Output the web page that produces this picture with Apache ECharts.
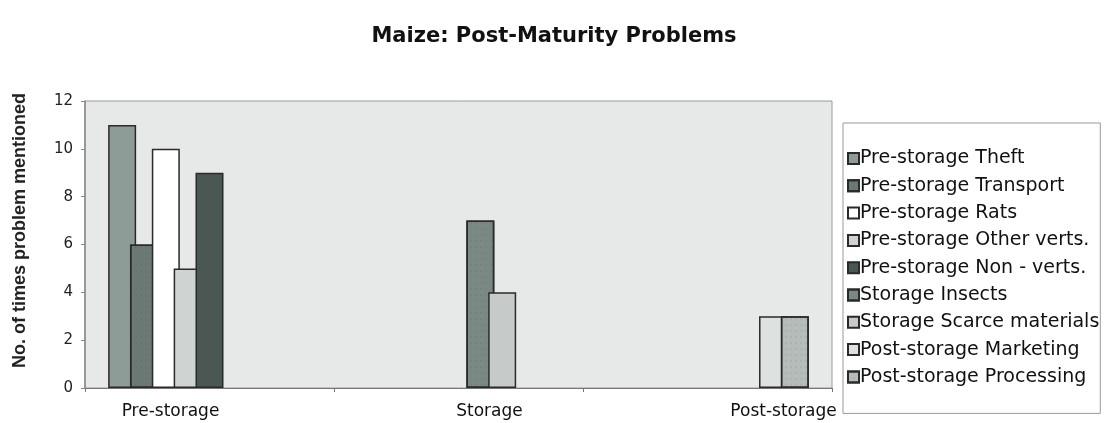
<!DOCTYPE html>
<html>
<head>
<meta charset="utf-8">
<script src="https://cdn.jsdelivr.net/npm/echarts@6/dist/echarts.min.js"></script>
<style>
html,body{margin:0;padding:0;background:#fff;}
#chart{width:1104px;height:423px;}
</style>
</head>
<body>
<div id="chart"></div>
<script>
const categories = ['Pre-storage', 'Storage', 'Post-storage'];
const seriesNames = [
  'Pre-storage Theft', 'Pre-storage Transport', 'Pre-storage Rats',
  'Pre-storage Other verts.', 'Pre-storage Non - verts.', 'Storage Insects',
  'Storage Scarce materials', 'Post-storage Marketing', 'Post-storage Processing'
];
const theft = [11, null, null];
const transport = [6, null, null];
const rats = [10, null, null];
const otherVerts = [5, null, null];
const nonVerts = [9, null, null];
const insects = [null, 7, null];
const scarce = [null, 4, null];
const marketing = [null, null, 3];
const processing = [null, null, 3];
const yTicks = [0, 2, 4, 6, 8, 10, 12];

const values = [theft, transport, rats, otherVerts, nonVerts, insects, scarce, marketing, processing];
const colors = ['#8d9c97', '#6c7a76', '#ffffff', '#cfd4d2', '#4a5753', '#7b8985', '#c6cbc9', '#dde2e0', '#b5bcb9'];
const textured = [false, true, false, false, false, true, false, false, true];
const labelShift = [-39, 31, 76];
const FONT = 'DejaVu Sans';

const chart = echarts.init(document.getElementById('chart'));
chart.setOption({
  animation: false,
  title: {
    text: 'Maize: Post-Maturity Problems',
    left: 549, top: 21, textAlign: 'center',
    textStyle: {fontFamily: FONT, fontWeight: 'bold', fontSize: 21, color: '#111'}
  },
  grid: {left: 85, right: 272, top: 101, bottom: 35, show: true,
    backgroundColor: '#e7e9e8', borderColor: '#9a9a9a', borderWidth: 1},
  legend: {
    orient: 'vertical', left: 843, top: 123,
    padding: [26, 1, 27, 4],
    borderColor: '#999', borderWidth: 1,
    icon: 'rect', itemWidth: 11, itemHeight: 11, itemGap: 8.3,
    textStyle: {fontFamily: FONT, fontSize: 19, color: '#111', lineHeight: 20, padding: [-6, 0, 0, -4]},
    data: seriesNames
  },
  xAxis: {
    type: 'category', data: categories,
    axisLine: {lineStyle: {color: '#777'}},
    axisTick: {show: true, length: 4, lineStyle: {color: '#777'}},
    axisLabel: {
      margin: 15, color: '#111', fontFamily: FONT, fontSize: 17,
      formatter: function (v, i) { return '{c' + i + '|' + v + '}'; },
      rich: {
        c0: {fontFamily: FONT, fontSize: 17, color: '#111', padding: [0, -2 * labelShift[0], 0, 0]},
        c1: {fontFamily: FONT, fontSize: 17, color: '#111', padding: [0, 0, 0, 2 * labelShift[1]]},
        c2: {fontFamily: FONT, fontSize: 17, color: '#111', padding: [0, 0, 0, 2 * labelShift[2]]}
      }
    }
  },
  yAxis: {
    type: 'value', min: yTicks[0], max: yTicks[yTicks.length - 1], interval: 2,
    name: 'No. of times problem mentioned', nameLocation: 'middle', nameGap: 56,
    nameTextStyle: {fontFamily: 'Liberation Sans', fontWeight: 'bold', fontSize: 18, color: '#222', padding: [0, 0, 0, 28]},
    axisLine: {show: true, lineStyle: {color: '#888', width: 1.5}},
    axisTick: {show: true, length: 4, lineStyle: {color: '#888'}},
    splitLine: {show: false},
    axisLabel: {margin: 12, color: '#222', fontFamily: FONT, fontSize: 15}
  },
  series: seriesNames.map(function (name, i) {
    const style = {color: colors[i], borderColor: '#2a2a2a', borderWidth: 1.5};
    if (textured[i]) {
      style.decal = {symbol: 'rect', symbolSize: 0.5, color: 'rgba(40,40,40,0.25)', dashArrayX: [2, 3], dashArrayY: [2, 4], rotation: 0};
    }
    return {
      name: name, type: 'bar', data: values[i],
      barWidth: 28, barGap: '-22%',
      itemStyle: style
    };
  })
});
</script>
</body>
</html>
